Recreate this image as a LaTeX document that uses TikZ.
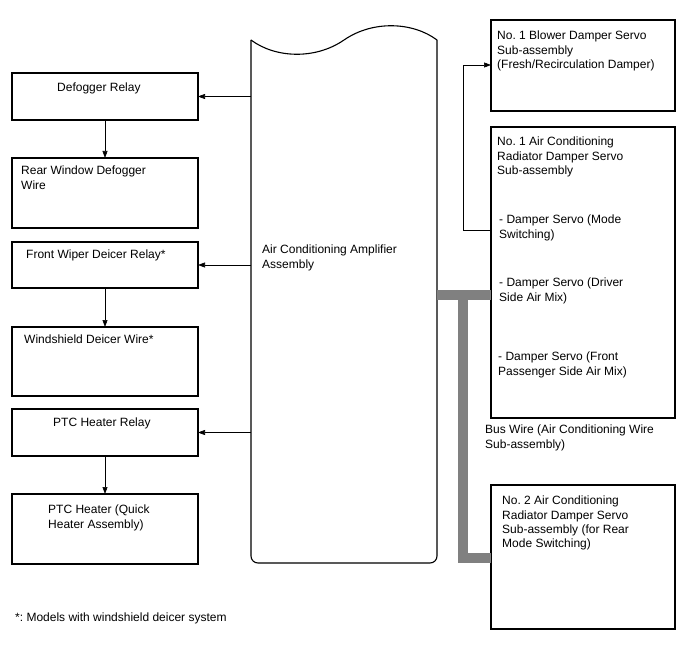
\documentclass[tikz,border=0pt]{standalone}
\usepackage{fontspec}
\setmainfont{Liberation Sans}
\usetikzlibrary{arrows.meta,positioning}
\frenchspacing

\begin{document}
\begin{tikzpicture}[x=1pt,y=-1pt,every node/.style={font=\fontsize{12}{14.3}\selectfont},
 box/.style={draw,line width=1.1pt,anchor=north west,minimum width=186pt,inner sep=0pt,outer sep=0pt},
 rbox/.style={box,minimum width=184pt},
 txt/.style={anchor=north west,inner sep=0pt,align=left},
 arr/.style={-{Triangle[length=7pt,width=5pt]},line width=0.6pt},
 bus/.style={line width=10pt,draw=black!50}]
\useasboundingbox (0,0) rectangle (688,658);
\node[box,minimum height=47pt] (defr) at (12,73) {};
\node[box,minimum height=70pt,below=38pt of defr.south west,anchor=north west] (rwdw) {};
\node[box,minimum height=46pt,below=14pt of rwdw.south west,anchor=north west] (fwdr) {};
\node[box,minimum height=69pt,below=39pt of fwdr.south west,anchor=north west] (wdw) {};
\node[box,minimum height=47pt,below=13pt of wdw.south west,anchor=north west] (ptcr) {};
\node[box,minimum height=70pt,below=38pt of ptcr.south west,anchor=north west] (ptch) {};
\node[txt] (defrT) at (57,83) {Defogger Relay};
\node[txt] (rwdwT) at (21,166) {Rear Window Defogger\\Wire};
\node[txt] (fwdrT) at (26,250) {Front Wiper Deicer Relay*};
\node[txt] (wdwT) at (24,335) {Windshield Deicer Wire*};
\node[txt] (ptcrT) at (53,418) {PTC Heater Relay};
\node[txt] (ptchT) at (48,505) {PTC Heater (Quick\\Heater Assembly)};
% amplifier
\node[anchor=north west,minimum width=186pt,minimum height=523pt,inner sep=0pt,outer sep=0pt] (amp) at (251,40) {};
\draw[line width=1.1pt,rounded corners=7pt] (amp.north east) -- (amp.south east) -- (amp.south west) -- (amp.north west);
\draw[line width=1.1pt] (amp.north west) .. controls (275,58) and (315,60) .. (344,40) .. controls (373,20) and (413,22) .. (amp.north east);
\node[txt] (ampT) at (262,245) {Air Conditioning Amplifier\\Assembly};
\draw[arr] (amp.west |- defr) -- (defr);
\draw[arr] (amp.west |- fwdr) -- (fwdr);
\draw[arr] (amp.west |- ptcr) -- (ptcr);
\draw[arr] (defr) -- (rwdw);
\draw[arr] (fwdr) -- (wdw);
\draw[arr] (ptcr) -- (ptch);
% servos
\node[rbox,minimum height=91pt] (blower) at (491,20) {};
\node[rbox,minimum height=291pt] (rad1) at (491,127) {};
\node[rbox,minimum height=144pt] (rad2) at (491,485) {};
\node[txt] (blowerT) at (497,31) {No. 1 Blower Damper Servo\\Sub-assembly\\(Fresh/Recirculation Damper)};
\node[txt] (rad1T) at (497,137) {No. 1 Air Conditioning\\Radiator Damper Servo\\Sub-assembly};
\node[txt] (mode) at (499,215) {- Damper Servo (Mode\\Switching)};
\node[txt] (drv) at (499,278) {- Damper Servo (Driver\\Side Air Mix)};
\node[txt] (pass) at (498,352) {- Damper Servo (Front\\Passenger Side Air Mix)};
\node[txt] (busT) at (485,425) {Bus Wire (Air Conditioning Wire\\Sub-assembly)};
\node[txt] (rad2T) at (502,496) {No. 2 Air Conditioning\\Radiator Damper Servo\\Sub-assembly (for Rear\\Mode Switching)};
\coordinate (modeout) at (491,230);
\coordinate (blowerin) at (463,65);
\draw[arr] (modeout) -| (blowerin) -- (blower.west |- blowerin);
\coordinate (busA) at (463,295);
\coordinate (busB) at (463,558);
\draw[bus] (amp.east |- busA) -- (rad1.west |- busA);
\draw[bus] (busA) -- (busB) -- (rad2.west |- busB);
\node[txt] (note) at (15,613) {*: Models with windshield deicer system};
\end{tikzpicture}
\end{document}
